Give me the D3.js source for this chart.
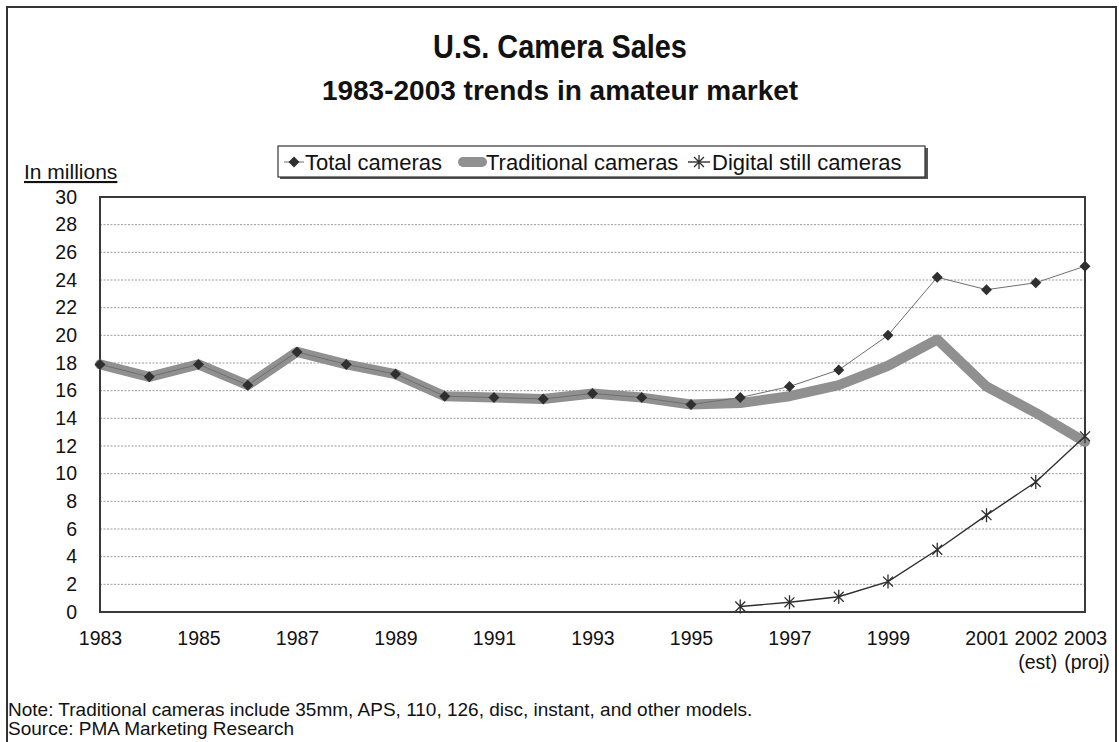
<!DOCTYPE html>
<html>
<head>
<meta charset="utf-8">
<script src="https://cdn.jsdelivr.net/npm/d3@7"></script>
<style>
  body { margin: 0; background: #fff; }
  text { font-family: "Liberation Sans", Arial, sans-serif; fill: #111; }
</style>
</head>
<body>
<svg id="chart" width="1119" height="742"></svg>
<script>
// ---- data (millions of units) ----
const years = [1983, 1984, 1985, 1986, 1987, 1988, 1989, 1990, 1991, 1992, 1993,
               1994, 1995, 1996, 1997, 1998, 1999, 2000, 2001, 2002, 2003];
const totalCameras = [17.9, 17.0, 17.9, 16.4, 18.8, 17.9, 17.2, 15.6, 15.5, 15.4, 15.8,
                      15.5, 15.0, 15.5, 16.3, 17.5, 20.0, 24.2, 23.3, 23.8, 25.0];
const traditionalCameras = [17.9, 17.0, 17.9, 16.4, 18.8, 17.9, 17.2, 15.6, 15.5, 15.4, 15.8,
                            15.5, 15.0, 15.1, 15.6, 16.4, 17.8, 19.7, 16.3, 14.4, 12.3];
const digitalYears = [1996, 1997, 1998, 1999, 2000, 2001, 2002, 2003];
const digitalCameras = [0.4, 0.7, 1.1, 2.2, 4.5, 7.0, 9.4, 12.7];

const xTickYears = [1983, 1985, 1987, 1989, 1991, 1993, 1995, 1997, 1999, 2001, 2002, 2003];
const xTickNotes = [["2002", "(est)"], ["2003", "(proj)"]];
const yTicks = [0, 2, 4, 6, 8, 10, 12, 14, 16, 18, 20, 22, 24, 26, 28, 30];

const seriesNames = ["Total cameras", "Traditional cameras", "Digital still cameras"];
const titleText = "U.S. Camera Sales";
const subtitleText = "1983-2003 trends in amateur market";
const unitLabel = "In millions";
const noteLines = ["Note: Traditional cameras include 35mm, APS, 110, 126, disc, instant, and other models.",
                   "Source: PMA Marketing Research"];

// ---- layout ----
const svg = d3.select("#chart");
const plot = { left: 100, right: 1085, top: 197, bottom: 612 };

const x = d3.scaleLinear().domain([1983, 2003]).range([plot.left, plot.right]);
const y = d3.scaleLinear().domain([0, 30]).range([plot.bottom, plot.top]);

// outer frame
svg.append("rect")
  .attr("x", 7).attr("y", 7).attr("width", 1109).attr("height", 760)
  .attr("fill", "none").attr("stroke", "#333").attr("stroke-width", 2);

// titles (main title set in a condensed bold face)
svg.append("text")
  .attr("transform", "translate(560,58) scale(0.85,1)")
  .attr("text-anchor", "middle")
  .style("font-size", "34px").style("font-weight", "bold").text(titleText);
svg.append("text").attr("x", 560).attr("y", 100).attr("text-anchor", "middle")
  .style("font-size", "28px").style("font-weight", "bold").text(subtitleText);

// unit label
svg.append("text").attr("x", 24).attr("y", 179)
  .style("font-size", "21px").style("text-decoration", "underline").text(unitLabel);

// gridlines
svg.append("g").selectAll("line")
  .data(yTicks.filter(d => d > 0 && d < 30))
  .join("line")
  .attr("x1", plot.left).attr("x2", plot.right)
  .attr("y1", d => y(d)).attr("y2", d => y(d))
  .attr("stroke", "#9a9a9a").attr("stroke-width", 1).attr("stroke-dasharray", "2,1.5");

// y axis labels
const yAxis = svg.append("g")
  .attr("transform", `translate(${plot.left},0)`)
  .call(d3.axisLeft(y).tickValues(yTicks).tickSize(0).tickPadding(23));
yAxis.select(".domain").remove();
yAxis.selectAll("text").style("font-size", "19.5px").style("font-family", "'Liberation Sans', Arial, sans-serif").attr("fill", "#111");

// x axis labels
const xAxis = svg.append("g")
  .attr("transform", `translate(0,${plot.bottom})`)
  .call(d3.axisBottom(x).tickValues(xTickYears).tickFormat(d3.format("d")).tickSize(0).tickPadding(19));
xAxis.select(".domain").remove();
xAxis.selectAll("text").style("font-size", "19.5px").style("font-family", "'Liberation Sans', Arial, sans-serif").attr("fill", "#111");

svg.append("g").selectAll("text")
  .data(xTickNotes)
  .join("text")
  .attr("x", d => x(+d[0]) + 2).attr("y", 669)
  .attr("text-anchor", "middle").style("font-size", "19.5px")
  .text(d => d[1]);

// plot frame
svg.append("rect")
  .attr("x", plot.left).attr("y", plot.top)
  .attr("width", plot.right - plot.left).attr("height", plot.bottom - plot.top)
  .attr("fill", "none").attr("stroke", "#3a3a3a").attr("stroke-width", 2);

// series lines
const lineGen = d3.line().x(d => x(d[0])).y(d => y(d[1]));
const tradPts = years.map((yr, i) => [yr, traditionalCameras[i]]);
const totalPts = years.map((yr, i) => [yr, totalCameras[i]]);
const digiPts = digitalYears.map((yr, i) => [yr, digitalCameras[i]]);

svg.append("path").datum(tradPts).attr("d", lineGen)
  .attr("fill", "none").attr("stroke", "#909090").attr("stroke-width", 10)
  .attr("stroke-linejoin", "round").attr("stroke-linecap", "round");

svg.append("path").datum(totalPts).attr("d", lineGen)
  .attr("fill", "none").attr("stroke", "#6e6e6e").attr("stroke-width", 1);

svg.append("path").datum(digiPts).attr("d", lineGen)
  .attr("fill", "none").attr("stroke", "#2e2e2e").attr("stroke-width", 1.4);

// markers
const diamond = r => `M0,${-r}L${r},0L0,${r}L${-r},0Z`;
const star = r => {
  const d = r * Math.SQRT1_2;
  return `M0,${-r}L0,${r}M${-d},${-d}L${d},${d}M${-d},${d}L${d},${-d}`;
};

svg.append("g").selectAll("path")
  .data(totalPts)
  .join("path")
  .attr("transform", d => `translate(${x(d[0])},${y(d[1])})`)
  .attr("d", diamond(5.5)).attr("fill", "#2f2f2f");

svg.append("g").selectAll("path")
  .data(digiPts)
  .join("path")
  .attr("transform", d => `translate(${x(d[0])},${y(d[1])})`)
  .attr("d", star(7)).attr("fill", "none").attr("stroke", "#2e2e2e").attr("stroke-width", 1.3);

// legend
const lg = svg.append("g");
lg.append("rect").attr("x", 280).attr("y", 148).attr("width", 648).attr("height", 31).attr("fill", "#555");
lg.append("rect").attr("x", 278).attr("y", 146).attr("width", 647).attr("height", 31)
  .attr("fill", "#fff").attr("stroke", "#333").attr("stroke-width", 1.2);

const legendY = 162;
lg.append("line").attr("x1", 284).attr("x2", 304).attr("y1", legendY).attr("y2", legendY)
  .attr("stroke", "#6e6e6e").attr("stroke-width", 1);
lg.append("path").attr("transform", `translate(294,${legendY})`).attr("d", diamond(5.5)).attr("fill", "#2f2f2f");
lg.append("text").attr("x", 305).attr("y", 170).style("font-size", "22px").text(seriesNames[0]);

lg.append("line").attr("x1", 463).attr("x2", 482).attr("y1", legendY).attr("y2", legendY)
  .attr("stroke", "#909090").attr("stroke-width", 10).attr("stroke-linecap", "round");
lg.append("text").attr("x", 486).attr("y", 170).style("font-size", "22px").text(seriesNames[1]);

lg.append("line").attr("x1", 688).attr("x2", 710).attr("y1", legendY).attr("y2", legendY)
  .attr("stroke", "#2e2e2e").attr("stroke-width", 1.4);
lg.append("path").attr("transform", `translate(699,${legendY})`).attr("d", star(7))
  .attr("fill", "none").attr("stroke", "#2e2e2e").attr("stroke-width", 1.3);
lg.append("text").attr("x", 712).attr("y", 170).style("font-size", "22px").text(seriesNames[2]);

// footnotes
svg.append("g").selectAll("text")
  .data(noteLines)
  .join("text")
  .attr("x", 8).attr("y", (d, i) => 716 + i * 19)
  .style("font-size", "19px")
  .text(d => d);
</script>
</body>
</html>
